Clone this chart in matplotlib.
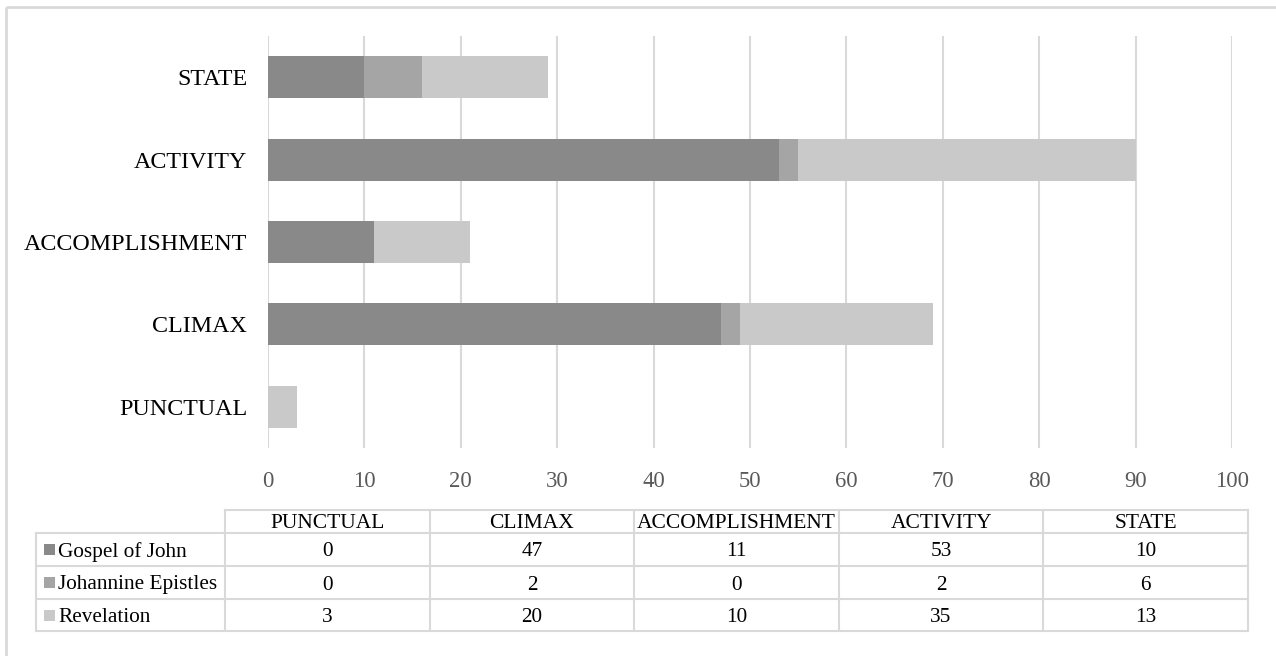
import matplotlib
matplotlib.use("Agg")
import matplotlib.pyplot as plt
from matplotlib.patches import Rectangle

plt.rcParams["font.family"] = ["Liberation Serif", "DejaVu Serif"]

# Aspect categories (bottom to top on the chart, left to right in the table)
categories = ["PUNCTUAL", "CLIMAX", "ACCOMPLISHMENT", "ACTIVITY", "STATE"]
series_names = ["Gospel of John", "Johannine Epistles", "Revelation"]
gospel = [0, 47, 11, 53, 10]
epistles = [0, 2, 0, 2, 6]
revelation = [3, 20, 10, 35, 13]
series_values = [gospel, epistles, revelation]
colors = ["#898989", "#a5a5a5", "#c9c9c9"]
x_ticks = [0, 10, 20, 30, 40, 50, 60, 70, 80, 90, 100]

W, H = 1276, 656
fig = plt.figure(figsize=(W / 100, H / 100), dpi=100)
fig.patch.set_facecolor("white")

grid_c = "#d9d9d9"

# Plot area in pixel terms
px_left, px_right, px_top, px_bottom = 268, 1232, 36, 448
ax = fig.add_axes([px_left / W, 1 - px_bottom / H,
                   (px_right - px_left) / W, (px_bottom - px_top) / H])

ypos = list(range(len(categories)))
left = [0] * len(categories)
for name, vals, col in zip(series_names, series_values, colors):
    ax.barh(ypos, vals, left=left, height=0.51, color=col, label=name, zorder=3)
    left = [a + b for a, b in zip(left, vals)]

ax.set_xlim(0, 100)
ax.set_ylim(-0.5, len(categories) - 0.5)
ax.set_xticks(x_ticks)
ax.set_xticklabels([str(t) for t in x_ticks])
ax.set_yticks(ypos)
ax.set_yticklabels(categories)
ax.xaxis.grid(True, color=grid_c, linewidth=1.5, zorder=0)
ax.yaxis.grid(False)
for s in ax.spines.values():
    s.set_visible(False)
ax.tick_params(axis="x", length=0, pad=16.5, labelsize=16.3, labelcolor="#595959")
ax.tick_params(axis="y", length=0, pad=15, labelsize=17.3, labelcolor="black")

# Overlay in pixel coordinates for the frame and the data table
ov = fig.add_axes([0, 0, 1, 1], zorder=5)
ov.set_xlim(0, W)
ov.set_ylim(H, 0)
ov.axis("off")
ov.patch.set_alpha(0)

# Chart frame (left and top edges visible)
ov.plot([6, 6], [7, H + 5], color=grid_c, lw=2.0, solid_capstyle="butt")
ov.plot([6, W + 5], [7, 7], color=grid_c, lw=2.0, solid_capstyle="butt")

# Data table
tbl_left, lab_right, tbl_right = 36, 225, 1248
col_w = (tbl_right - lab_right) / len(categories)
row_y = [510, 533, 566, 599, 631]
lw_t = 1.5
cap_half = 7

ov.plot([lab_right, tbl_right], [row_y[0], row_y[0]], color=grid_c, lw=lw_t)
for y in row_y[1:]:
    ov.plot([tbl_left, tbl_right], [y, y], color=grid_c, lw=lw_t)
ov.plot([tbl_left, tbl_left], [row_y[1], row_y[-1]], color=grid_c, lw=lw_t)
for k in range(len(categories) + 1):
    x = lab_right + k * col_w
    ov.plot([x, x], [row_y[0], row_y[-1]], color=grid_c, lw=lw_t)

# Header row
yh = (row_y[0] + row_y[1]) / 2
for k, cat in enumerate(categories):
    ov.text(lab_right + (k + 0.5) * col_w, yh + cap_half, cat,
            ha="center", va="baseline", fontsize=15.5, color="black")

# Data rows with legend keys
for r, (name, vals, col) in enumerate(zip(series_names, series_values, colors)):
    yc = (row_y[r + 1] + row_y[r + 2]) / 2
    ov.add_patch(Rectangle((44, yc - 5.5), 11, 11, facecolor=col, edgecolor="none"))
    ov.text(58, yc + cap_half, name, ha="left", va="baseline", fontsize=15.3, color="black")
    for k, v in enumerate(vals):
        ov.text(lab_right + (k + 0.5) * col_w, yc + cap_half, str(v),
                ha="center", va="baseline", fontsize=15.3, color="black")

fig.savefig("out.png", dpi=100, facecolor="white")
